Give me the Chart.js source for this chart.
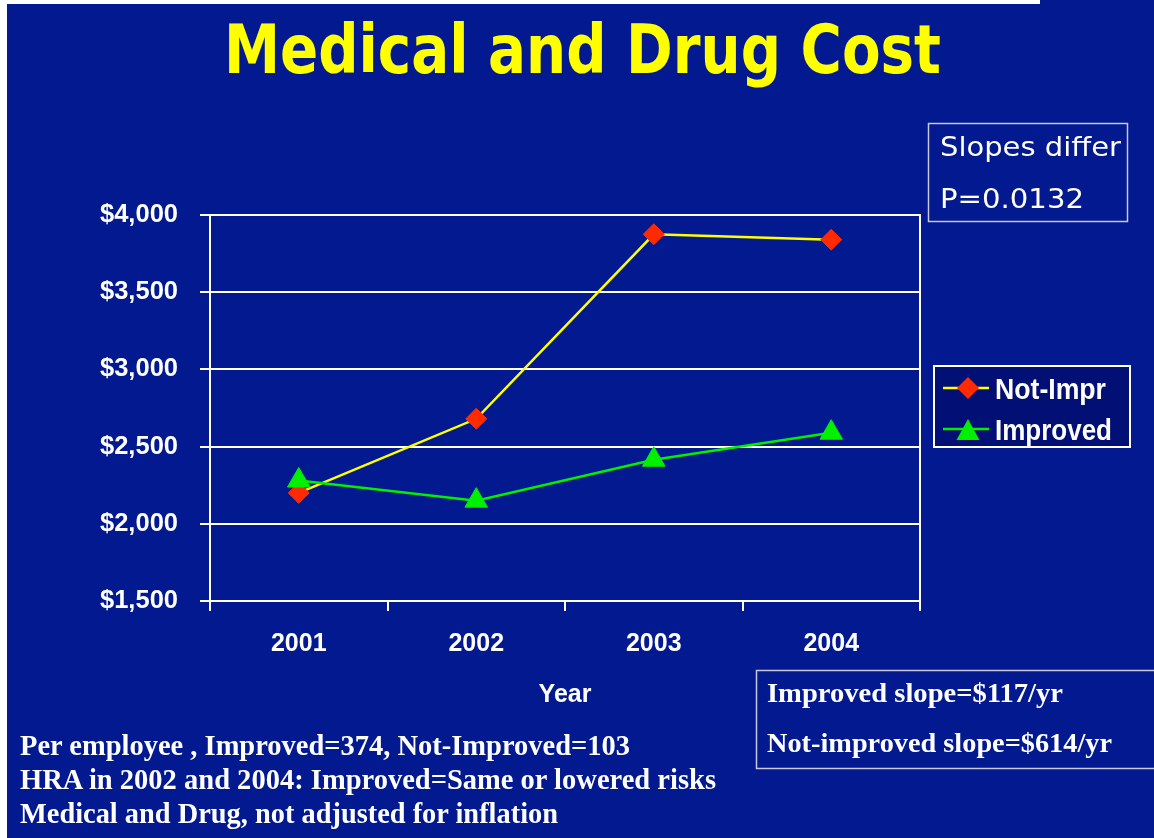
<!DOCTYPE html>
<html>
<head>
<meta charset="utf-8">
<script src="https://cdn.jsdelivr.net/npm/chart.js@4.4.1/dist/chart.umd.min.js"></script>
<style>
html,body{margin:0;padding:0;background:#03198F;width:1154px;height:838px;overflow:hidden;}
#wrap{position:relative;width:1154px;height:838px;}
#c{position:absolute;left:0;top:0;}
#ov{position:absolute;left:0;top:0;pointer-events:none;}
</style>
</head>
<body>
<div id="wrap">
<canvas id="c" width="1154" height="838"></canvas>
<svg id="ov" width="1154" height="838" xmlns="http://www.w3.org/2000/svg">
  <rect x="0" y="0" width="1040" height="4" fill="#ffffff"/>
  <rect x="0" y="0" width="7" height="838" fill="#ffffff"/>
  <text x="224" y="73" font-family="DejaVu Sans, Verdana, sans-serif" font-weight="bold" font-size="67" fill="#FFFF00" textLength="717" lengthAdjust="spacingAndGlyphs">Medical and Drug Cost</text>

  <rect x="928.5" y="123.5" width="199" height="98" fill="none" stroke="#C8C8DC" stroke-width="1.5"/>
  <text x="940" y="156" font-family="DejaVu Sans, Verdana, sans-serif" font-size="27" fill="#ffffff" textLength="181" lengthAdjust="spacingAndGlyphs">Slopes differ</text>
  <text x="940" y="208" font-family="DejaVu Sans, Verdana, sans-serif" font-size="27" fill="#ffffff" textLength="144" lengthAdjust="spacingAndGlyphs">P=0.0132</text>

  <rect x="756.5" y="670.5" width="420" height="98" fill="none" stroke="#C8C8DC" stroke-width="1.5"/>
  <text x="767" y="702" font-family="Liberation Serif, Times New Roman, serif" font-weight="bold" font-size="27" fill="#ffffff" textLength="296" lengthAdjust="spacingAndGlyphs">Improved slope=$117/yr</text>
  <text x="767" y="752" font-family="Liberation Serif, Times New Roman, serif" font-weight="bold" font-size="27" fill="#ffffff" textLength="345" lengthAdjust="spacingAndGlyphs">Not-improved slope=$614/yr</text>

  <text x="20" y="755" font-family="Liberation Serif, Times New Roman, serif" font-weight="bold" font-size="29" fill="#ffffff" textLength="610" lengthAdjust="spacingAndGlyphs">Per employee , Improved=374, Not-Improved=103</text>
  <text x="20" y="789" font-family="Liberation Serif, Times New Roman, serif" font-weight="bold" font-size="29" fill="#ffffff" textLength="696" lengthAdjust="spacingAndGlyphs">HRA in 2002 and 2004: Improved=Same or lowered risks</text>
  <text x="20" y="823" font-family="Liberation Serif, Times New Roman, serif" font-weight="bold" font-size="29" fill="#ffffff" textLength="538" lengthAdjust="spacingAndGlyphs">Medical and Drug, not adjusted for inflation</text>

  <g id="legend"></g>
</svg>
</div>
<script>
// ---- data ----
const years = ['2001', '2002', '2003', '2004'];
const notImproved = [2200, 2680, 3875, 3840];
const improved = [2280, 2150, 2415, 2590];
const yTicks = [1500, 2000, 2500, 3000, 3500, 4000];
const seriesNames = ['Not-Impr', 'Improved'];

// ---- styles ----
const YELLOW = '#FFFF00';
const RED = '#FF2A00';
const GREEN = '#00F000';
const WHITE = '#FFFFFF';
const xTickFont = { family: 'Liberation Sans, Arial, sans-serif', weight: 'bold', size: 25 };
const yTickFont = { family: 'Liberation Sans, Arial, sans-serif', weight: 'bold', size: 25.5 };

const ctx = document.getElementById('c').getContext('2d');
new Chart(ctx, {
  type: 'line',
  data: {
    labels: years,
    datasets: [
      {
        label: seriesNames[0], data: notImproved,
        borderColor: YELLOW, borderWidth: 2.5, tension: 0,
        pointStyle: 'rectRot', pointRadius: 10.5,
        pointBackgroundColor: RED, pointBorderColor: RED, pointBorderWidth: 1,
        order: 1
      },
      {
        label: seriesNames[1], data: improved,
        borderColor: GREEN, borderWidth: 2.5, tension: 0,
        pointStyle: 'triangle', pointRadius: 13,
        pointBackgroundColor: GREEN, pointBorderColor: GREEN, pointBorderWidth: 1,
        order: 0
      }
    ]
  },
  options: {
    responsive: false,
    animation: false,
    layout: { padding: { left: 0, top: 215, right: 234, bottom: 117 } },
    plugins: { legend: { display: false }, tooltip: { enabled: false }, title: { display: false } },
    scales: {
      x: {
        offset: true,
        grid: { offset: true, drawOnChartArea: false, drawTicks: true, tickLength: 10, color: WHITE, lineWidth: 2 },
        border: { display: true, color: WHITE, width: 2 },
        ticks: { color: WHITE, font: xTickFont, padding: 18, maxRotation: 0 },
        title: { display: true, text: 'Year', color: WHITE, font: xTickFont, padding: 11 },
        afterFit(s) { s.height = 120; }
      },
      y: {
        min: 1500, max: 4000,
        afterBuildTicks(s) { s.ticks = yTicks.map(v => ({ value: v })); },
        grid: { color: WHITE, lineWidth: 2, tickLength: 10, drawTicks: true },
        border: { display: true, color: WHITE, width: 2 },
        ticks: {
          color: WHITE, font: yTickFont, padding: 22,
          callback: v => '$' + Number(v).toLocaleString('en-US')
        },
        afterFit(s) { s.width = 210; }
      },
      y2: {
        position: 'right', min: 1500, max: 4000,
        grid: { display: true, drawOnChartArea: false, drawTicks: false, color: 'rgba(0,0,0,0)' },
        ticks: { display: false },
        border: { display: true, color: WHITE, width: 2 },
        afterFit(s) { s.width = 0; }
      }
    }
  }
});

// ---- legend (SVG, from series names/colours) ----
const NS = 'http://www.w3.org/2000/svg';
const lg = document.getElementById('legend');
function el(tag, attrs, text) {
  const e = document.createElementNS(NS, tag);
  for (const k in attrs) e.setAttribute(k, attrs[k]);
  if (text) e.textContent = text;
  lg.appendChild(e);
  return e;
}
el('rect', { x: 934, y: 366, width: 196, height: 81, fill: '#020F75', stroke: WHITE, 'stroke-width': 2 });
const legendItems = [
  { name: seriesNames[0], line: YELLOW, fill: RED, shape: 'diamond', w: 111 },
  { name: seriesNames[1], line: GREEN, fill: GREEN, shape: 'triangle', w: 117 }
];
legendItems.forEach((it, i) => {
  const cy = 388 + i * 41;
  const cx = 968;
  el('line', { x1: 943, y1: cy, x2: 989, y2: cy, stroke: it.line, 'stroke-width': 2.5 });
  if (it.shape === 'diamond') {
    el('polygon', { points: `${cx},${cy-11} ${cx+11},${cy} ${cx},${cy+11} ${cx-11},${cy}`, fill: it.fill });
  } else {
    el('polygon', { points: `${cx},${cy-10} ${cx+11.5},${cy+11} ${cx-11.5},${cy+11}`, fill: it.fill });
  }
  el('text', {
    x: 995, y: cy + 11, 'font-family': 'Liberation Sans, Arial, sans-serif', 'font-weight': 'bold',
    'font-size': 29, fill: WHITE, textLength: it.w, lengthAdjust: 'spacingAndGlyphs'
  }, it.name);
});
</script>
</body>
</html>
